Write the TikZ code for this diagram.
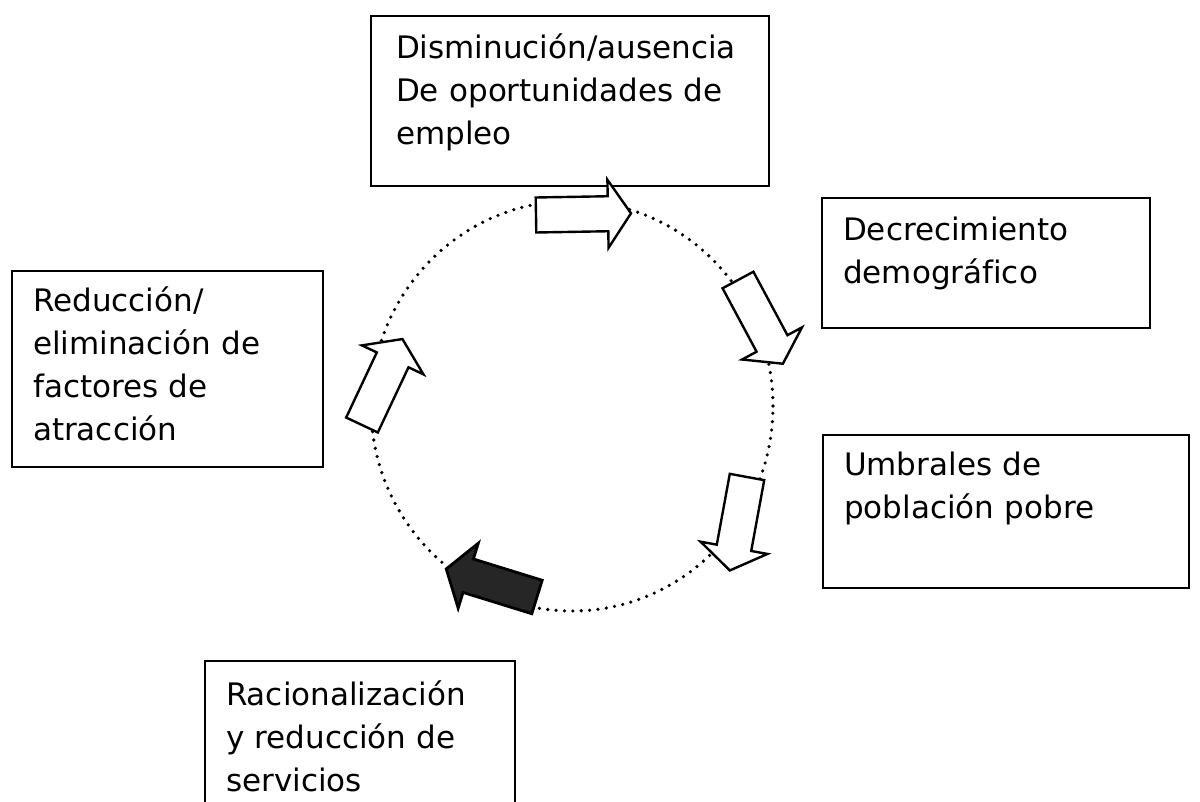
\documentclass[tikz,border=0pt]{standalone}
\usepackage{fontspec}
\setmainfont[Ligatures=CommonOff]{DejaVu Sans}
\usetikzlibrary{positioning}

% block arrow on the cycle: #1 extra style, #2 tail point, #3 angle
\newcommand{\cyclearrow}[3][]{%
  \begin{scope}[shift={#2}, rotate=#3]
    \draw[blockarrow, #1] (0,-17.5) -- (72,-17.5) -- (72,-34) -- (95,0) -- (72,34) -- (72,17.5) -- (0,17.5) -- cycle;
  \end{scope}}

\begin{document}
\begin{tikzpicture}[
    x=0.5pt, y=-0.5pt,
    box/.style={rectangle, draw, line width=1.1pt, anchor=north west, align=left, inner ysep=0pt, inner xsep=10.5pt, font=\fontsize{15.5}{21.5}\selectfont},
    blockarrow/.style={draw, line width=1.2pt, fill=white, line join=miter},
    darkarrow/.style={fill=black!85, line width=1.4pt},
    dotring/.style={line width=1.8pt, line cap=round, dash pattern=on 0pt off 4.2pt}
]
\useasboundingbox (0,0) rectangle (1200,802);
\clip (0,0) rectangle (1200,802);

% Boxes
\node[box, inner xsep=12.5pt, text width=174pt, text height=21pt, text depth=64pt] (empleo) at (370,15) {Disminución/ausencia\\De oportunidades de\\empleo};
\node[box, text width=143pt, text height=21pt, text depth=44pt] (demografia) at (821,197) {Decrecimiento\\demográfico};
\node[box, text width=162pt, text height=20pt, text depth=56.5pt] (umbrales) at (822,434) {Umbrales de\\población pobre};
\node[box, text width=134.5pt, text height=20pt, text depth=78pt] (atraccion) at (11,270) {Reducción/\\eliminación de\\factores de\\atracción};
\node[box, text width=134pt, text height=22pt, text depth=60pt] (servicios) at (204,660) {Racionalización\\y reducción de\\servicios};

% Cycle
\coordinate (centro) at (572,406);
\draw[dotring] (centro) ellipse [x radius=100.5pt, y radius=102.5pt];

\cyclearrow{(536,215)}{1}
\cyclearrow{(738,280)}{-61.8}
\cyclearrow{(747,477)}{-100.4}
\cyclearrow[darkarrow]{(537,597)}{162.8}
\cyclearrow{(362,425)}{64.8}

\end{tikzpicture}
\end{document}
